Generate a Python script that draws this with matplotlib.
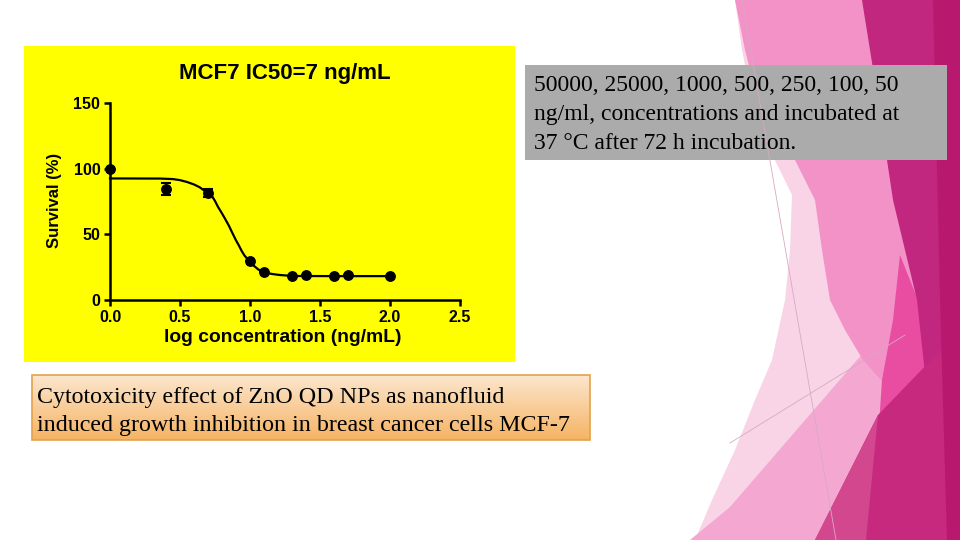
import matplotlib.pyplot as plt
import numpy as np
from matplotlib.patches import Polygon, Rectangle

# data
log_conc = [0.0, 0.4, 0.7, 1.0, 1.1, 1.3, 1.4, 1.6, 1.7, 2.0]
survival = [100, 84.8, 81.7, 29.8, 21.0, 18.4, 18.9, 18.6, 19.1, 18.6]
sem = [0, 4.7, 3.1, 0, 0, 0, 0, 0, 0, 0]

# fitted curve, points
fit_x = [0.0, 0.36, 0.45, 0.5, 0.55, 0.6, 0.64, 0.67, 0.7, 0.73, 0.75, 0.77, 0.8, 0.82, 0.85,
         0.87, 0.9, 0.92, 0.94, 0.96, 0.99, 1.01, 1.04, 1.06, 1.09, 1.12, 1.16, 1.21, 1.27, 1.33, 1.6, 2.0]
fit_y = [92.7, 92.6, 92.2, 91.4, 90.0, 88.1, 86.0, 83.7, 81.5, 79.0, 75.5, 71.3, 66.0, 62.3, 56.5,
         52.0, 45.5, 41.7, 37.5, 34.0, 30.2, 27.6, 25.0, 23.2, 21.8, 20.6, 19.8, 19.1, 18.6, 18.3, 18.2, 18.2]

x_ticks = [0.0, 0.5, 1.0, 1.5, 2.0, 2.5]
y_ticks = [0, 50, 100, 150]

title = 'MCF7 IC50=7 ng/mL'
x_label = 'log concentration (ng/mL)'
y_label = 'Survival (%)'
note_text = '50000, 25000, 1000, 500, 250, 100, 50\nng/ml, concentrations and incubated at\n37 \u00b0C after 72 h incubation.'
caption_text = 'Cytotoxicity effect of ZnO QD NPs as nanofluid\ninduced growth inhibition in breast cancer cells MCF-7'

fig = plt.figure(figsize=(9.6, 5.4), dpi=100)
fig.patch.set_facecolor('white')

# ---------- slide background, in pixel coordinates ----------
bg = fig.add_axes([0, 0, 1, 1], zorder=-1)
bg.axis('off')

white_edge = [(735, 0), (742, 50), (752, 100), (770, 150), (792, 195), (790, 250), (785, 300),
              (772, 360), (755, 400), (735, 450), (712, 500), (695, 540)]
shapes = [
    (white_edge + [(960, 540), (960, 0)], '#F9D4E7'),
    ([(690, 540), (730, 507), (857, 360), (910, 300), (960, 300), (960, 540)], '#F4A7D1'),
    ([(735, 0), (960, 0), (960, 300), (890, 390), (863, 360), (845, 330), (830, 300),
      (822, 250), (815, 200), (790, 150), (758, 100), (745, 50)], '#F292C7'),
    ([(900, 255), (918, 300), (932, 420), (878, 440), (882, 380), (893, 320)], '#E94DA1'),
    ([(862, 0), (960, 0), (960, 540), (945, 540), (930, 420), (917, 300), (905, 250),
      (893, 200), (878, 100)], '#C1277E'),
    ([(815, 540), (878, 415), (960, 330), (960, 540)], '#C7297F'),
    ([(815, 540), (878, 415), (866, 540)], '#D3478F'),
    ([(933, 0), (960, 0), (960, 540), (947, 540), (940, 300)], '#B9186F'),
]
for pts, col in shapes:
    bg.add_patch(Polygon(pts, closed=True, facecolor=col, edgecolor='none'))
bg.plot([742, 836], [0, 540], color='#D9A8C4', lw=0.6)
bg.plot([730, 905], [443, 335], color='#D9A8C4', lw=0.6)

# yellow chart panel
bg.add_patch(Rectangle((24, 46), 491, 316, facecolor='#FFFF00', edgecolor='none'))

# grey note box
bg.add_patch(Rectangle((525, 65), 422, 95, facecolor='#ABABAB', edgecolor='none'))
bg.text(534, 75, note_text, family='Liberation Serif', fontsize=17, va='top', ha='left',
        linespacing=1.5, color='black')

# orange caption box with vertical gradient
grad = np.linspace(0, 1, 100)[:, None]
top_c = np.array([252, 230, 206]) / 255
bot_c = np.array([245, 180, 100]) / 255
img = top_c[None, None, :] * (1 - grad[..., None]) + bot_c[None, None, :] * grad[..., None]
bg.imshow(img, extent=(32, 590, 440, 375), aspect='auto', zorder=2)
bg.add_patch(Rectangle((32, 375), 558, 65, facecolor='none', edgecolor='#E3A24A', lw=1.2, zorder=3))
bg.text(37, 387, caption_text, family='Liberation Serif', fontsize=17.3, va='top', ha='left',
        linespacing=1.42, color='black', zorder=4)
bg.set_xlim(0, 960)
bg.set_ylim(540, 0)

# ---------- the dose-response chart ----------
ax = fig.add_axes([110 / 960, 1 - 300 / 540, 350 / 960, 196.7 / 540])
ax.patch.set_alpha(0)

ax.plot(fit_x, fit_y, color='black', lw=1.6, clip_on=False)
ax.errorbar(log_conc, survival, yerr=sem, fmt='o', color='black', ms=6.8,
            capsize=3.5, elinewidth=1.5, capthick=1.5, clip_on=False)

ax.set_xlim(0, 2.5)
ax.set_ylim(0, 150)
ax.set_xticks(x_ticks)
ax.set_yticks(y_ticks)
ax.set_xticklabels([f'{v:.1f}' for v in x_ticks])
ax.spines['top'].set_visible(False)
ax.spines['right'].set_visible(False)
ax.spines['left'].set_linewidth(1.8)
ax.spines['bottom'].set_linewidth(1.8)
ax.tick_params(axis='both', direction='out', length=4.5, width=1.8, pad=2.5,
               labelsize=11.5)
for lab in ax.get_xticklabels() + ax.get_yticklabels():
    lab.set_fontweight('bold')
    lab.set_family('Liberation Sans')

fig.text(285 / 960, 1 - 73 / 540, title, ha='center', va='center',
         fontsize=16, fontweight='bold', family='Liberation Sans')
fig.text(283 / 960, 1 - 337 / 540, x_label, ha='center', va='center',
         fontsize=13.9, fontweight='bold', family='Liberation Sans')
fig.text(54 / 960, 1 - 200 / 540, y_label, ha='center', va='center', rotation=90,
         fontsize=12, fontweight='bold', family='Liberation Sans')

plt.savefig('out.png', dpi=100)
